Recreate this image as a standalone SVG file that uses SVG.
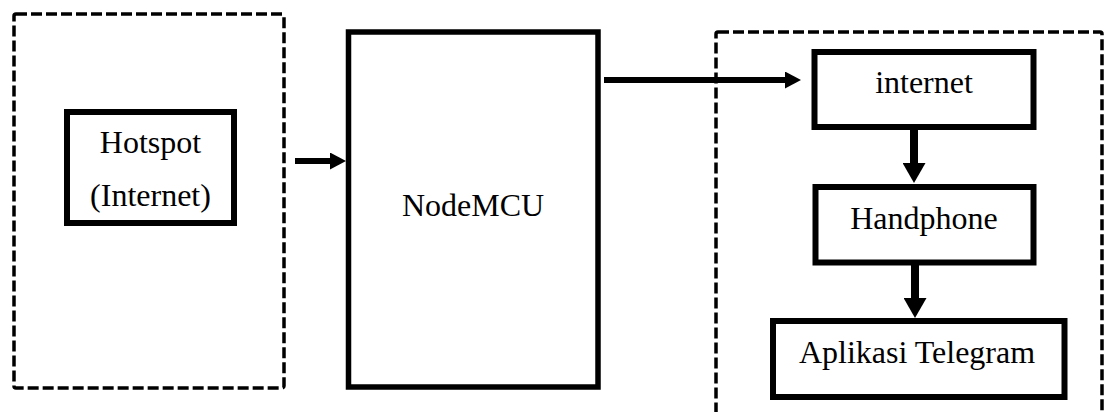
<svg xmlns="http://www.w3.org/2000/svg" width="1104" height="412" viewBox="0 0 1104 412">
<style>
.dash{fill:none;stroke:#000;stroke-width:3.5;stroke-dasharray:11 4}
.box{fill:#fff;stroke:#000;stroke-width:6}
.lbl{font-family:"Liberation Serif","Times New Roman",serif;font-size:32px;fill:#000;text-anchor:middle}
.h{stroke:#000;stroke-width:6;fill:none}
.v{stroke:#000;stroke-width:8;fill:none}
</style>
<defs>
<marker id="ah" markerUnits="userSpaceOnUse" markerWidth="16" markerHeight="17" viewBox="0 0 16 17" refX="0" refY="8.5" orient="auto"><path d="M0,0 L16,8.5 L0,17 z" fill="#000"/></marker>
<marker id="av" markerUnits="userSpaceOnUse" markerWidth="20" markerHeight="23" viewBox="0 0 20 23" refX="0" refY="11.5" orient="auto"><path d="M0,0 L20,11.5 L0,23 z" fill="#000"/></marker>
</defs>
<g id="group-left"><rect class="dash" x="14" y="14" width="270" height="374" rx="2"/></g>
<g id="group-right"><rect class="dash" x="716" y="32" width="386" height="400" rx="2"/></g>
<g id="hotspot"><rect class="box" x="67" y="112" width="167" height="111"/><text class="lbl" x="150.5" y="153">Hotspot</text><text class="lbl" x="150.5" y="206">(Internet)</text></g>
<g id="nodemcu"><rect class="box" x="348.5" y="32" width="249.5" height="355" style="stroke-width:5.5"/><text class="lbl" x="473" y="216">NodeMCU</text></g>
<g id="internet"><rect class="box" x="814.5" y="52" width="219" height="75"/><text class="lbl" x="924" y="93">internet</text></g>
<g id="handphone"><rect class="box" x="815.5" y="187" width="218" height="75.5"/><text class="lbl" x="924" y="229">Handphone</text></g>
<g id="telegram"><rect class="box" x="773" y="321" width="291.5" height="76"/><text class="lbl" x="917" y="363">Aplikasi Telegram</text></g>
<g id="connectors">
<line class="h" x1="295" y1="161" x2="330" y2="161" marker-end="url(#ah)"/>
<line class="h" x1="604" y1="80" x2="785" y2="80" marker-end="url(#ah)"/>
<line class="v" x1="914" y1="130" x2="914" y2="163" marker-end="url(#av)"/>
<line class="v" x1="915" y1="265" x2="915" y2="298" marker-end="url(#av)"/>
</g>
</svg>
